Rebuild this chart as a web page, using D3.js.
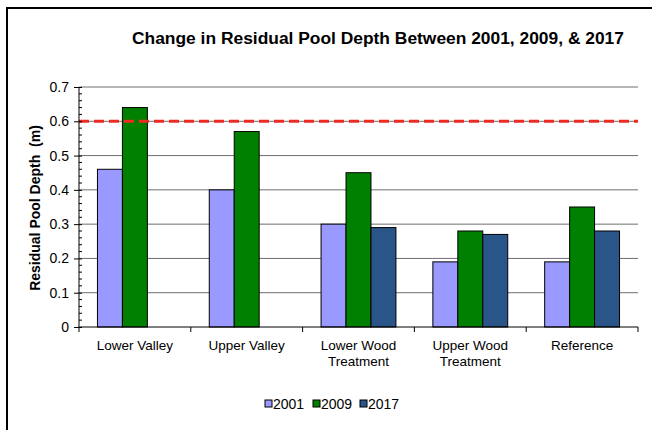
<!DOCTYPE html>
<html><head><meta charset="utf-8">
<script src="https://cdn.jsdelivr.net/npm/d3@7"></script>
<style>body{margin:0;background:#fff}svg{display:block;font-family:"Liberation Sans",Arial,sans-serif}</style>
</head><body><svg id="c" width="652" height="430"></svg>
<script>
const categories = [["Lower Valley"],["Upper Valley"],["Lower Wood","Treatment"],["Upper Wood","Treatment"],["Reference"]];
const seriesNames = ["2001","2009","2017"];
const values2001 = [0.46,0.40,0.30,0.19,0.19];
const values2009 = [0.64,0.57,0.45,0.28,0.35];
const values2017 = [null,null,0.29,0.27,0.28];
const yTicks = [0,0.1,0.2,0.3,0.4,0.5,0.6,0.7];
const targetLine = 0.6;
const colors = ["#9999ff","#008000","#2a5588"];
const series = [values2001,values2009,values2017];

const svg = d3.select("#c");
svg.append("rect").attr("x",7).attr("y",8).attr("width",700).attr("height",500).attr("fill","none").attr("stroke","#000").attr("stroke-width",2);

const L=79,R=638,T=87,B=327;
const x = d3.scaleBand().domain(d3.range(categories.length)).range([L,R]).padding(0);
const y = d3.scaleLinear().domain([0,0.7]).range([B,T]);
const inner = d3.scaleBand().domain(d3.range(3)).range([0,x.bandwidth()]).paddingInner(0).paddingOuter(0.74);

// gridlines
svg.append("g").selectAll("line").data(yTicks.filter(d=>d>0)).join("line")
  .attr("x1",L).attr("x2",R).attr("y1",d=>y(d)).attr("y2",d=>y(d))
  .attr("stroke","#6e6e6e").attr("stroke-width",1);

// bars
series.forEach((vals,si)=>{
  svg.append("g").selectAll("rect").data(vals.map((v,i)=>({v,i})).filter(d=>d.v!=null)).join("rect")
    .attr("x",d=>x(d.i)+inner(si)).attr("width",inner.bandwidth())
    .attr("y",d=>y(d.v)).attr("height",d=>B-y(d.v))
    .attr("fill",colors[si]).attr("stroke","#000").attr("stroke-width",1);
});

// dashed target line
svg.append("line").attr("x1",L).attr("x2",R).attr("y1",y(targetLine)).attr("y2",y(targetLine))
  .attr("stroke","#ee2a24").attr("stroke-width",3).attr("stroke-dasharray","10,5");

// y axis
const yAxis = d3.axisLeft(y).tickValues(yTicks).tickFormat(d=>d===0?"0":d3.format(".1f")(d)).tickSize(5).tickPadding(5);
const gy = svg.append("g").attr("transform",`translate(${L},0)`).call(yAxis);
gy.select(".domain").attr("stroke","#000").attr("d",`M0,${B}V${T}`);
gy.selectAll(".tick line").attr("stroke","#000").attr("x2",-5).attr("x1",3);
gy.selectAll("text").attr("font-size",14).attr("fill","#000").attr("font-family","Liberation Sans, Arial, sans-serif");
// minor ticks
svg.append("g").selectAll("line").data(d3.range(0,36).map(i=>i*0.02).filter(v=>Math.abs(v*10-Math.round(v*10))>1e-6 && v<0.7))
  .join("line").attr("x1",L).attr("x2",L+3).attr("y1",d=>y(d)).attr("y2",d=>y(d)).attr("stroke","#000");

// x axis
svg.append("line").attr("x1",L).attr("x2",R).attr("y1",B).attr("y2",B).attr("stroke","#000");
svg.append("g").selectAll("line").data(d3.range(categories.length+1)).join("line")
  .attr("x1",d=>L+d*x.bandwidth()).attr("x2",d=>L+d*x.bandwidth()).attr("y1",B).attr("y2",B+5).attr("stroke","#000");
const cl = svg.append("g").selectAll("text").data(categories).join("text")
  .attr("x",(d,i)=>x(i)+x.bandwidth()/2).attr("y",350).attr("text-anchor","middle")
  .attr("font-size",13.5).attr("fill","#000");
cl.selectAll("tspan").data(d=>d).join("tspan").attr("x",function(){return this.parentNode.getAttribute("x");})
  .attr("dy",(d,i)=>i===0?0:16).text(d=>d);

// title
svg.append("text").attr("x",378).attr("y",44).attr("text-anchor","middle").attr("font-size",17.4).attr("font-weight","bold").attr("fill","#000")
  .text("Change in Residual Pool Depth Between 2001, 2009, & 2017");
// y label
svg.append("text").attr("transform","translate(40,208) rotate(-90)").attr("text-anchor","middle").attr("font-size",14).attr("font-weight","bold")
  .attr("xml:space","preserve").style("white-space","pre").text("Residual Pool Depth  (m)");

// legend
const lg = svg.append("g").attr("transform","translate(265,404)");
const lx=[0,48,95];
seriesNames.forEach((n,i)=>{
  lg.append("rect").attr("x",lx[i]).attr("y",-4).attr("width",7).attr("height",7).attr("fill",colors[i]).attr("stroke","#000").attr("stroke-width",1);
  lg.append("text").attr("x",lx[i]+8).attr("y",5).attr("font-size",14).text(n);
});
</script></body></html>
